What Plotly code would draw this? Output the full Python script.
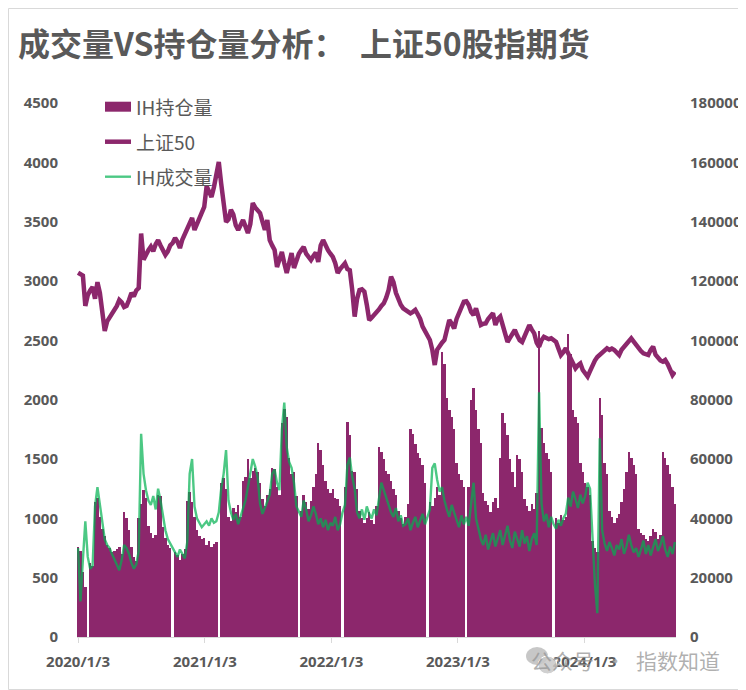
import pandas as pd
import plotly.graph_objects as go

# weekly samples, first Friday of 2020 onward
dates = pd.date_range("2020-01-03", periods=247, freq="7D")

sse50 = [
    3070, 3060, 3045, 2790, 2880, 2920, 2950, 2850, 2990, 2900,
    2700, 2580, 2660, 2690, 2730, 2760, 2790, 2840, 2820, 2780,
    2790, 2840, 2900, 2870, 2920, 2940, 3400, 3180, 3230, 3260,
    3290, 3250, 3310, 3345, 3300, 3260, 3220, 3250, 3300, 3320,
    3362, 3330, 3278, 3350, 3400, 3440, 3490, 3531, 3430, 3480,
    3514, 3560, 3624, 3800, 3760, 3708, 3790, 3900, 4003, 3820,
    3620, 3497, 3520, 3600, 3560, 3470, 3430, 3480, 3514, 3460,
    3404, 3480, 3657, 3620, 3590, 3573, 3500, 3430, 3514, 3345,
    3300, 3261, 3118, 3180, 3244, 3150, 3067, 3150, 3236, 3110,
    3180, 3230, 3260, 3287, 3230, 3200, 3177, 3210, 3240, 3160,
    3300, 3345, 3290, 3260, 3230, 3203, 3150, 3067, 3100, 3130,
    3149, 3100, 3090, 2924, 2700, 2850, 2924, 2930, 2910, 2800,
    2671, 2690, 2710, 2728, 2760, 2790, 2812, 2860, 2924, 3036,
    2990, 2900, 2840, 2800, 2770, 2756, 2740, 2728, 2740, 2756,
    2720, 2680, 2615, 2580, 2540, 2503, 2420, 2292, 2420, 2460,
    2480, 2503, 2600, 2671, 2640, 2600, 2680, 2728, 2780, 2826,
    2830, 2798, 2740, 2713, 2770, 2700, 2629, 2640, 2643, 2680,
    2710, 2728, 2629, 2680, 2700, 2620, 2560, 2486, 2520, 2560,
    2587, 2540, 2500, 2486, 2540, 2600, 2629, 2590, 2559, 2480,
    2446, 2500, 2530, 2520, 2510, 2517, 2500, 2486, 2430, 2376,
    2400, 2433, 2390, 2348, 2300, 2264, 2290, 2306, 2250, 2220,
    2194, 2240, 2292, 2330, 2360, 2376, 2400, 2420, 2433, 2420,
    2430, 2419, 2400, 2376, 2420, 2446, 2480, 2500, 2517, 2490,
    2460, 2433, 2410, 2390, 2380, 2376, 2420, 2446, 2380, 2348,
    2330, 2320, 2334, 2300, 2260, 2208, 2236,
]

# None = market closed the whole week (Spring Festival / National Day)
ih_open_interest = [
    30500, 29000, 22000, 17000, None, 25000, 24000, 45500, 47000, 40500,
    36500, 34000, 31000, 30000, 28500, 29000, 29500, 30500, 28000, 42000,
    40000, 36000, 30500, 27000, 25500, 40000, 45000, 49500, 47000, 37500,
    35000, 33500, 34500, 48000, 47500, 37000, 33500, 31000, 30000, None,
    28500, 27500, 26000, 28000, 29500, 46000, 49000, 45500, 40500, 36000,
    34000, 33000, 33500, 31000, 32500, 30500, 31500, 32000, None, 52000,
    53500, 50000, 40500, 39000, 43500, 42000, 44500, 40500, 52500, 54000,
    60000, 53500, 56000, 57000, 55500, 52000, 46500, 44000, 48000, 50000,
    57000, 56500, 50500, 48000, 72000, 77000, 74000, 60500, 55000, 55500,
    47500, None, 42500, 48000, 45500, 43000, 46000, 50500, 55000, 65500,
    63000, 58000, 52500, 50000, 48500, 50000, 47000, 46500, 44000, None,
    50500, 72500, 68000, 56000, 55500, 50000, 42500, 40000, 38500, 40000,
    42000, 39500, 38000, 44000, 64000, 62500, 60000, 56000, 55000, 52500,
    50000, 48000, 42500, 40000, 38000, 40500, 45000, 70000, 68500, 65000,
    62000, 60500, 58000, 52000, None, 45500, 44000, 47000, 50500, 48000,
    96000, 92000, 80500, 76500, 74000, 70000, 58500, 55000, 53000, 50500,
    None, 50500, 80000, 84000, 76500, 70000, 65500, 48500, 46000, 44500,
    42000, 45500, 47000, 43500, 60500, 75500, 72000, 68000, 60000, 55500,
    50500, 61500, 60000, 55500, 46500, 44000, 42500, 45000, 43000, 48500,
    103000, 70500, 65500, 62000, 60000, 55500, None, 40000, 38500, 41000,
    39500, 40500, 102000, 95500, 76500, 74000, 72000, 58500, 55500, 52000,
    50500, 48000, 32500, 30000, 28500, 80500, 75000, 58500, 55000, 42500,
    40500, 38500, 40000, 41500, 45500, 50000, 55500, 62500, 60500, 58000,
    55000, 36500, 35000, 34500, 33000, 32500, 34000, 36500, 35500, 33000,
    34500, 62500, 60500, 58000, 55000, 50500, 45000,
]

ih_volume = [
    30000, 12000, 26000, 39000, 27000, 23000, 24000, 44000, 50500, 45000,
    38000, 33000, 31000, 30000, 28000, 26000, 24000, 22500, 26000, 31000,
    30000, 28000, 25000, 23000, 24500, 29000, 68500, 55000, 49500, 46000,
    44500, 47500, 43000, 50000, 46000, 41000, 36000, 33000, 31500, 30000,
    28500, 27000, 29500, 28000, 26500, 32000, 55000, 60000, 44000, 40000,
    38500, 37000, 38000, 39000, 37500, 40000, 38500, 39000, 42000, 50000,
    55000, 63000, 46000, 42000, 39500, 41500, 38000, 40500, 43000, 46000,
    50500, 55000, 60000, 57500, 54000, 45000, 41500, 43500, 46000, 48000,
    55000, 56500, 52000, 49500, 70000, 79000, 64000, 59000, 57000, 52000,
    44000, 42000, 40500, 46000, 43000, 39000, 41000, 44000, 41500, 38000,
    40000, 37000, 39500, 36000, 38500, 37500, 40500, 36000, 38000, 42000,
    44500, 58000, 60500, 54000, 50000, 42000, 40000, 43000, 39500, 44000,
    41500, 40000, 43000, 41000, 46000, 52000, 49500, 47000, 44000, 42000,
    40500, 43500, 39000, 41000, 37500, 38000, 40000, 36000, 38500, 40500,
    37000, 39000, 41500, 38000, 40500, 43000, 57000, 58500, 53000, 49000,
    50500, 46000, 43000, 40500, 44500, 42000, 39000, 37000, 41000, 38000,
    40500, 37500, 45000, 52000, 40000, 36500, 33000, 31000, 34500, 29500,
    32000, 35000, 30500, 33500, 36000, 31000, 34000, 37500, 32500, 30000,
    35500, 33000, 30500, 36000, 31500, 34000, 29000, 33000, 35000, 31000,
    82500, 45000, 39000, 41500, 37000, 40500, 38000, 36500, 39500, 37500,
    40000, 41500, 47000, 44000, 49000, 46500, 43500, 48000, 45000, 47500,
    52000, 50000, 34000, 18000, 8000, 67000, 36000, 31500, 29000, 32000,
    30000, 27500, 31000, 29500, 33000, 28000, 30500, 34500, 31000, 28500,
    30000, 27000, 29500, 32500, 28000, 31000, 27500, 30000, 33000, 29000,
    31000, 34000, 29500, 27000, 30500, 28000, 32000,
]

tick_dates = ["2020-01-03", "2021-01-03", "2022-01-03", "2023-01-03", "2024-01-03"]
tick_text = ["2020/1/3", "2021/1/3", "2022/1/3", "2023/1/3", "2024/1/3"]

legend_names = ["IH持仓量", "上证50", "IH成交量"]

PURPLE = "#8C276C"
GREEN = "rgba(0,176,80,0.7)"
GREY_TEXT = "#595959"
CJK = "Noto Sans CJK SC"

# the page body adds an 8px offset, so the figure is drawn 8px smaller
W, H = 738, 682
L, R, T, B = 69, 70, 95, 53
PW, PH = W - L - R, H - T - B


def px(x):
    return (x - L) / PW


def py(y):
    return (H - B - y) / PH


fig = go.Figure()
fig.add_trace(
    go.Bar(
        x=dates,
        y=ih_open_interest,
        name=legend_names[0],
        marker=dict(color=PURPLE, line=dict(width=0)),
        yaxis="y2",
        showlegend=False,
    )
)
fig.add_trace(
    go.Scatter(
        x=dates,
        y=ih_volume,
        name=legend_names[2],
        mode="lines",
        line=dict(color=GREEN, width=2.4),
        yaxis="y2",
        showlegend=False,
    )
)
fig.add_trace(
    go.Scatter(
        x=dates,
        y=sse50,
        name=legend_names[1],
        mode="lines",
        line=dict(color=PURPLE, width=4.5),
        yaxis="y",
        showlegend=False,
    )
)

axis_font = dict(family="Open Sans", size=15, color=GREY_TEXT, weight="bold")

# hand-built legend: wide bar swatch and line swatches like the source chart
rows = [98.7, 133.7, 168.7]
shapes = [
    dict(type="rect", xref="paper", yref="paper",
         x0=px(97), x1=px(123), y0=py(rows[0] + 5), y1=py(rows[0] - 5),
         fillcolor=PURPLE, line=dict(width=0)),
    dict(type="line", xref="paper", yref="paper",
         x0=px(97), x1=px(123), y0=py(rows[1]), y1=py(rows[1]),
         line=dict(color=PURPLE, width=4.5)),
    dict(type="line", xref="paper", yref="paper",
         x0=px(97), x1=px(123), y0=py(rows[2]), y1=py(rows[2]),
         line=dict(color=GREEN, width=2.4)),
    # outer frame
    dict(type="rect", xref="paper", yref="paper",
         x0=px(0.5), x1=px(W - 0.5), y0=py(H - 0.5), y1=py(0.5),
         line=dict(color="#D9D9D9", width=1)),
    # watermark icon
    dict(type="circle", xref="paper", yref="paper",
         x0=px(518), x1=px(540), y0=py(657), y1=py(639),
         fillcolor="rgba(185,185,185,0.8)", line=dict(width=0)),
    dict(type="circle", xref="paper", yref="paper",
         x0=px(530), x1=px(549), y0=py(666), y1=py(648),
         fillcolor="rgba(200,200,200,0.85)", line=dict(color="white", width=1)),
]

annotations = [
    dict(text=name, xref="paper", yref="paper", x=px(126), y=py(yy),
         xanchor="left", yanchor="middle", showarrow=False,
         font=dict(family=CJK, size=19, color=GREY_TEXT))
    for name, yy in zip(legend_names, rows)
]
annotations.append(
    dict(
        text="公众号\u2002·\u2002指数知道",
        xref="paper", yref="paper",
        x=px(714), y=py(652),
        xanchor="right", yanchor="middle",
        showarrow=False,
        font=dict(family=CJK, size=21, color="rgba(150,150,150,0.75)"),
    )
)

fig.update_layout(
    width=W,
    height=H,
    margin=dict(l=L, r=R, t=T, b=B, autoexpand=False),
    paper_bgcolor="white",
    plot_bgcolor="white",
    bargap=0,
    showlegend=False,
    title=dict(
        text="成交量VS持仓量分析：  上证50股指期货",
        x=10 / W,
        xanchor="left",
        y=1 - 37 / H,
        yanchor="middle",
        font=dict(family=CJK, size=32, color=GREY_TEXT, weight="bold"),
    ),
    xaxis=dict(
        type="date",
        range=["2019-12-31", "2024-09-23"],
        tickvals=tick_dates,
        ticktext=tick_text,
        showline=True,
        linecolor="#D9D9D9",
        ticks="outside",
        ticklen=5,
        tickcolor="#D9D9D9",
        showgrid=False,
        tickfont=axis_font,
        ticklabelstandoff=6,
        automargin=False,
    ),
    yaxis=dict(
        range=[0, 4500],
        dtick=500,
        showgrid=False,
        zeroline=False,
        showline=False,
        tickfont=axis_font,
        ticklabelstandoff=18,
        automargin=False,
    ),
    yaxis2=dict(
        range=[0, 180000],
        dtick=20000,
        tickformat="d",
        overlaying="y",
        side="right",
        showgrid=False,
        zeroline=False,
        showline=False,
        tickfont=axis_font,
        ticklabelstandoff=13,
        automargin=False,
    ),
    shapes=shapes,
    annotations=annotations,
)

fig.write_html("out.html")
